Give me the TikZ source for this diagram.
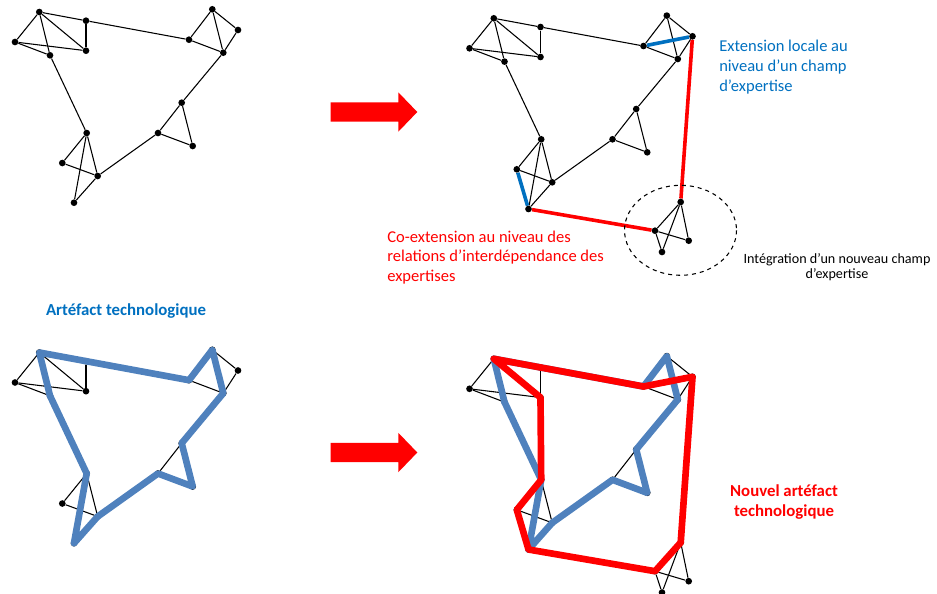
\documentclass[tikz,border=0pt]{standalone}
\usepackage{fontspec}
\setmainfont{Carlito}
\usetikzlibrary{positioning}
\definecolor{bleu}{HTML}{0070C0}
\definecolor{acier}{HTML}{4F81BD}
\definecolor{rouge}{HTML}{FF0000}
\tikzset{
  sommet/.style={circle,fill=black,inner sep=0pt,minimum size=5pt},
  arete/.style={line width=0.8pt},
  lienbleu/.style={bleu,line width=2.7pt},
  lienrouge/.style={rouge,line width=2.7pt},
  boucle/.style={line width=5pt,line join=round},
  texte/.style={inner sep=0pt,font={\fontsize{12.4}{15}\selectfont}},
}
% one expertise network, shifted by (#2,#3), node names prefixed by #1
\newcommand{\reseau}[3]{%
  \begin{scope}[shift={(#2,#3)}]
    \foreach \n/\x/\y in {A/39.3/12,B/86/20.7,C/15/42,D/50/55.3,E/86/50.7,
        F/189/39.7,G/212.3/9.3,H/238/30,I/223.3/52.7,J/181.7/102.7,
        K/158/133,L/192.7/146,M/86.7/133,N/62.3/163,O/97.7/176,P/74/202.7}
      \node[sommet] (#1\n) at (\x,\y) {};
    \foreach \a/\b in {A/B,A/C,A/D,A/E,B/E,C/D,C/E,B/F,D/M,F/G,F/I,G/H,G/I,
        H/I,I/J,J/K,J/L,K/L,K/O,M/N,M/O,M/P,N/O,O/P}
      \draw[arete] (#1\a) -- (#1\b);
  \end{scope}}
% the new field of expertise, same frame as \reseau
\newcommand{\champ}[3]{%
  \begin{scope}[shift={(#2,#3)}]
    \foreach \n/\x/\y in {Q/226.2/195.7,R/200.5/224.4,S/234.2/234.4,T/207.5/245.7}
      \node[sommet] (#1\n) at (\x,\y) {};
    \foreach \a/\b in {Q/R,Q/S,Q/T,R/S,R/T,F/H,N/P,P/R,H/Q}
      \draw[arete] (#1\a) -- (#1\b);
  \end{scope}}

\begin{document}
\begin{tikzpicture}[x=0.75pt,y=-0.75pt]
\useasboundingbox (0,0) rectangle (937,593);

% the four networks
\reseau{tl}{0}{0}
\reseau{tr}{454.5}{6.3}
\champ{tr}{454.5}{6.3}
\reseau{bl}{0}{340.5}
\reseau{br}{454.5}{346.8}
\champ{br}{454.5}{346.8}

% big arrows
\foreach \dy in {0,340.5}
  \fill[rouge,shift={(0,\dy)}] (330.7,102.3) -- (398.3,102.3) -- (398.3,92.3)
    -- (417.3,112) -- (398.3,131.7) -- (398.3,121.7) -- (330.7,121.7) -- cycle;

% extensions
\draw[lienbleu] (trF) -- (trH);
\draw[lienbleu] (trN) -- (trP);
\draw[lienrouge] (trP) -- (trR);
\draw[lienrouge] (trH) -- (trQ);
\draw[dashed,arete] (680.5,230.3) ellipse [x radius=56,y radius=45];

% technological artefacts
\draw[boucle,acier] (blP.center) -- (blM.center) -- (blD.center) -- (blA.center)
  -- (blF.center) -- (blG.center) -- (blI.center) -- (blJ.center) -- (blL.center)
  -- (blK.center) -- (blO.center) -- cycle;
\draw[boucle,acier] (brP.center) -- (brM.center) -- (brD.center) -- (brA.center)
  -- (brF.center) -- (brG.center) -- (brI.center) -- (brJ.center) -- (brL.center)
  -- (brK.center) -- (brO.center) -- cycle;
\draw[boucle,rouge] (brA.center) -- (brE.center) -- (brM.center) -- (brN.center)
  -- (brP.center) -- (brR.center) -- (brQ.center) -- (brH.center) -- (brF.center)
  -- cycle;

% labels
\node[texte,bleu,anchor=west,align=left] (extension) at (719,67)
  {Extension locale au\\niveau d’un champ\\d’expertise};
\node[texte,rouge,anchor=west,align=left,font={\fontsize{12.4}{14.4}\selectfont}]
  (coext) at (387,257.5)
  {Co-extension au niveau des\\relations d’interdépendance des\\expertises};
\node[texte,align=center,font={\fontsize{10.6}{11.5}\selectfont}] (integration)
  at (837,267) {Intégration d’un nouveau champ\\d’expertise};
\node[texte,bleu,font={\fontsize{12.6}{15}\selectfont\bfseries}] (artefact)
  at (126,310.7) {Artéfact technologique};
\node[texte,rouge,align=center,font={\fontsize{12.6}{14.5}\selectfont\bfseries}]
  (nouvel) at (784,502) {Nouvel artéfact\\technologique};
\end{tikzpicture}
\end{document}
